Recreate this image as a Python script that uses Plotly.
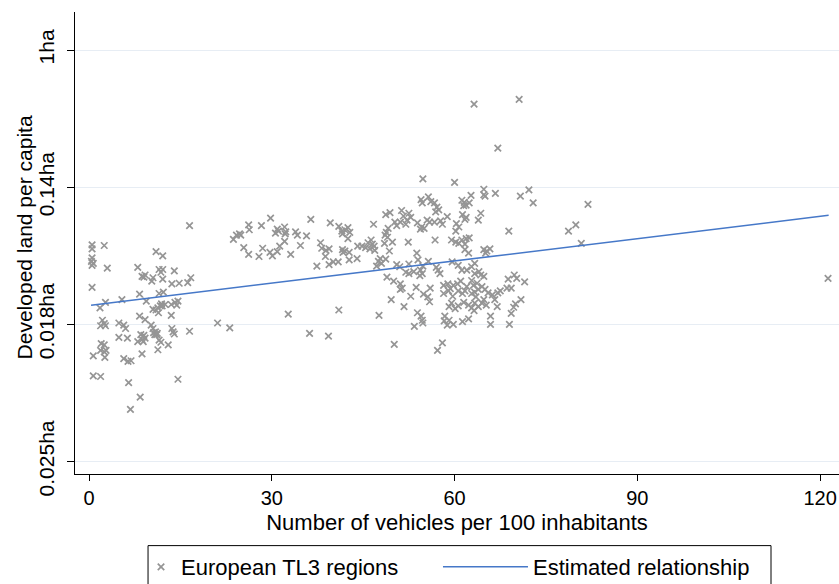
import plotly.graph_objects as go

# Regions: (vehicles per 100 inhabitants, ln of developed land per capita in ha)
low_ownership = [
    (0.5, -2.84), (0.5, -2.90), (2.5, -2.85), (0.5, -3.03), (0.4, -3.08), (0.7, -3.11),
    (0.5, -3.14), (3.0, -3.18), (0.5, -3.46), (11.0, -2.94), (12.1, -3.00), (8.0, -3.17),
    (11.5, -3.20), (12.1, -3.20), (11.8, -3.24), (14.0, -3.22), (8.7, -3.30), (9.2, -3.28),
    (9.0, -3.31), (10.5, -3.32), (10.3, -3.37), (12.1, -3.34), (13.6, -3.41), (14.8, -3.40),
    (16.2, -3.39), (16.7, -3.32), (8.3, -3.56), (11.5, -3.55), (12.2, -3.53), (2.7, -3.68),
    (5.4, -3.64), (9.4, -3.66), (1.8, -3.76), (11.9, -3.70), (12.5, -3.71), (11.7, -3.73),
    (11.3, -3.76), (12.0, -3.73), (13.5, -3.71), (14.1, -3.68), (14.4, -3.72), (14.6, -3.66),
    (10.5, -3.78), (11.4, -3.83), (11.0, -3.79), (13.5, -3.87), (8.3, -3.88), (9.2, -3.93),
    (2.2, -3.94), (2.5, -3.99), (1.9, -4.02), (2.7, -4.02), (4.9, -3.98), (5.7, -4.01),
    (6.0, -4.06), (10.2, -4.01), (10.5, -4.06), (13.6, -4.06), (14.0, -4.14), (13.8, -4.11),
    (16.5, -4.10), (10.6, -4.12), (10.9, -4.11), (11.1, -4.15), (10.8, -4.15), (11.2, -4.13),
    (8.5, -4.15), (9.0, -4.16), (9.2, -4.20), (8.7, -4.22), (8.0, -4.25), (8.9, -4.25),
    (4.9, -4.19), (6.3, -4.20), (11.5, -4.23), (11.8, -4.26), (13.0, -4.30), (2.0, -4.28),
    (2.5, -4.30), (1.9, -4.38), (2.5, -4.40), (2.8, -4.38), (11.3, -4.37), (8.7, -4.43),
    (0.7, -4.46), (2.6, -4.48), (5.7, -4.50), (6.4, -4.54), (6.9, -4.53), (0.7, -4.75),
    (1.9, -4.76), (14.6, -4.80), (6.5, -4.85), (8.4, -5.06), (6.8, -5.24), (16.5, -2.56),
]

mid_ownership = [
    (23.7, -2.76), (24.2, -2.70), (24.7, -2.68), (24.9, -2.70), (26.2, -2.55), (26.3, -2.62),
    (28.3, -2.56), (29.8, -2.45), (30.9, -2.61), (30.6, -2.67), (31.1, -2.64), (32.1, -2.58),
    (32.3, -2.65), (32.2, -2.68), (33.9, -2.65), (34.2, -2.70), (35.7, -2.71), (36.4, -2.47),
    (39.6, -2.52), (41.0, -2.57), (25.4, -2.88), (26.2, -2.98), (28.5, -2.89), (27.9, -3.01),
    (29.7, -2.95), (30.1, -3.00), (30.9, -2.94), (31.3, -2.86), (32.1, -2.79), (33.1, -2.98),
    (34.7, -2.85), (38.0, -2.81), (38.2, -2.89), (38.9, -2.92), (39.4, -2.90), (38.8, -3.01),
    (37.4, -3.15), (39.4, -3.13), (40.1, -3.09), (40.9, -3.09), (32.7, -3.85), (21.1, -3.98),
    (23.1, -4.05), (36.2, -4.13), (39.3, -4.17), (41.0, -3.79),
]

upper_mid_ownership = [
    (54.8, -1.88), (54.5, -2.18), (54.7, -2.23), (41.5, -2.64), (42.0, -2.62), (42.5, -2.59),
    (41.6, -2.68), (42.8, -2.66), (42.5, -2.75), (46.7, -2.54), (48.7, -2.40), (49.4, -2.37),
    (51.3, -2.34), (51.6, -2.42), (52.5, -2.38), (52.8, -2.44), (52.2, -2.48), (52.0, -2.54),
    (51.1, -2.51), (50.5, -2.56), (50.2, -2.51), (48.8, -2.66), (49.1, -2.60), (48.6, -2.70),
    (49.0, -2.73), (49.8, -2.80), (53.9, -2.52), (54.6, -2.58), (54.4, -2.61), (55.0, -2.60),
    (52.4, -2.80), (41.6, -2.91), (42.0, -2.93), (42.7, -2.95), (41.7, -2.95), (44.1, -2.86),
    (44.8, -2.86), (45.4, -2.88), (45.8, -2.81), (46.3, -2.77), (46.5, -2.83), (46.1, -2.90),
    (46.8, -2.86), (46.9, -2.92), (48.5, -2.82), (49.3, -2.93), (42.7, -3.06), (44.0, -3.04),
    (47.8, -3.04), (47.5, -3.08), (48.0, -3.11), (47.2, -3.15), (48.7, -3.05), (50.5, -3.13),
    (51.0, -3.16), (53.8, -2.96), (54.0, -3.06), (52.5, -3.12), (52.0, -3.24), (52.5, -3.26),
    (53.3, -3.23), (54.4, -3.21), (54.7, -3.26), (54.8, -3.15), (54.3, -3.29), (48.9, -3.31),
    (50.0, -3.37), (51.1, -3.41), (51.4, -3.47), (51.1, -3.49), (53.7, -3.46), (49.6, -3.64),
    (52.8, -3.59), (54.9, -3.56), (51.7, -3.74), (47.6, -3.87), (53.9, -3.83), (54.5, -3.88),
    (54.7, -3.94), (54.8, -3.98), (53.4, -4.03), (50.1, -4.29),
]

high_ownership = [
    (60.0, -1.93), (64.8, -2.03), (64.8, -2.11), (65.0, -2.13), (66.7, -2.09), (70.8, -2.13),
    (72.2, -2.04), (55.7, -2.14), (56.1, -2.21), (56.7, -2.23), (57.1, -2.29), (57.4, -2.33),
    (56.9, -2.36), (61.2, -2.19), (61.6, -2.22), (61.9, -2.26), (62.4, -2.23), (62.7, -2.12),
    (61.5, -2.27), (55.5, -2.48), (55.9, -2.51), (56.7, -2.51), (57.7, -2.49), (58.0, -2.54),
    (58.8, -2.43), (61.3, -2.40), (61.9, -2.44), (61.7, -2.47), (60.3, -2.53), (60.7, -2.58),
    (60.2, -2.64), (63.9, -2.48), (64.3, -2.38), (68.9, -2.64), (56.8, -2.77), (59.5, -2.77),
    (60.2, -2.80), (60.7, -2.82), (61.2, -2.77), (61.9, -2.75), (62.4, -2.74), (61.7, -2.83),
    (61.7, -2.91), (62.3, -2.96), (64.8, -2.91), (65.3, -2.93), (65.8, -2.90), (65.1, -2.96),
    (55.7, -3.08), (57.0, -3.17), (57.3, -3.21), (57.6, -3.26), (59.6, -3.09), (60.6, -3.14),
    (61.2, -3.21), (62.0, -3.21), (62.8, -3.16), (63.3, -3.11), (64.0, -3.23), (64.3, -3.28),
    (64.8, -3.30), (63.3, -3.26), (68.8, -3.34), (69.8, -3.28), (70.2, -3.33), (71.5, -3.38),
    (56.0, -3.47), (55.6, -3.60), (55.9, -3.67), (58.2, -3.43), (58.9, -3.41), (59.3, -3.48),
    (59.8, -3.43), (60.5, -3.41), (61.0, -3.37), (58.2, -3.55), (59.0, -3.51), (59.7, -3.59),
    (60.6, -3.51), (61.3, -3.55), (61.7, -3.51), (62.0, -3.45), (62.8, -3.36), (63.1, -3.43),
    (63.7, -3.40), (63.9, -3.49), (63.3, -3.53), (62.8, -3.55), (64.5, -3.45), (65.0, -3.49),
    (63.5, -3.60), (65.5, -3.54), (66.2, -3.57), (67.1, -3.54), (67.5, -3.51), (68.6, -3.47),
    (69.3, -3.47), (59.1, -3.74), (59.5, -3.69), (60.1, -3.77), (60.6, -3.73), (61.5, -3.68),
    (62.3, -3.72), (62.8, -3.76), (63.3, -3.69), (63.2, -3.80), (63.9, -3.74), (64.5, -3.69),
    (64.8, -3.64), (65.2, -3.72), (67.0, -3.74), (66.6, -3.64), (70.0, -3.70), (69.7, -3.75),
    (69.3, -3.84), (70.9, -3.64), (65.9, -3.88), (58.4, -3.88), (58.3, -3.95), (59.1, -3.94),
    (59.8, -4.00), (58.8, -4.01), (61.3, -3.96), (62.3, -3.92), (65.9, -4.00), (69.0, -4.00),
    (58.0, -4.27), (57.2, -4.38), (72.9, -2.23),
]

very_high_ownership = [
    (81.9, -2.25), (78.7, -2.64), (79.9, -2.55), (80.8, -2.82), (121.3, -3.33),
    (63.2, -0.79), (70.6, -0.72), (67.1, -1.43),
]

# Fitted line end points
fit_vehicles = [0.33, 121.4]
fit_ln_land = [-3.72, -2.41]

# Log-scale tick positions and their labels
y_tick_vals = [0, -2, -4, -6]
y_tick_text = ["1ha", "0.14ha", "0.018ha", "0.025ha"]
x_tick_vals = [0, 30, 60, 90, 120]

regions = low_ownership + mid_ownership + upper_mid_ownership + high_ownership + very_high_ownership
vehicles = [p[0] for p in regions]
ln_land = [p[1] for p in regions]

FONT = "Liberation Sans, Arial, sans-serif"
GRAY = "#959595"
BLUE = "#4678C8"

fig = go.Figure()
fig.add_trace(go.Scatter(
    x=vehicles, y=ln_land, mode="markers", name="European TL3 regions",
    marker=dict(symbol="x-thin", size=6.5, color=GRAY, line=dict(color=GRAY, width=1.7)),
    legend="legend",
))
fig.add_trace(go.Scatter(
    x=fit_vehicles, y=fit_ln_land, mode="lines", name="Estimated relationship",
    line=dict(color=BLUE, width=1.5),
    legend="legend2",
))

legend_common = dict(
    orientation="h", yanchor="top", y=-0.156, xanchor="left",
    borderwidth=0, bgcolor="rgba(0,0,0,0)",
    font=dict(family=FONT, size=22, color="black"),
)

fig.update_layout(
    width=839, height=584,
    margin=dict(l=75, r=0, t=12, b=110, autoexpand=False),
    paper_bgcolor="white", plot_bgcolor="white",
    font=dict(family=FONT, size=20, color="black"),
    showlegend=True,
    legend=dict(x=0.0864, itemwidth=30, **legend_common),
    legend2=dict(x=0.4751, itemwidth=85, **legend_common),
    # frame around both legend keys
    shapes=[dict(
        type="rect", xref="paper", yref="paper",
        x0=0.0956, x1=0.911, y0=-0.155, y1=-0.26,
        line=dict(color="black", width=1), fillcolor="rgba(0,0,0,0)", layer="below",
    )],
    annotations=[dict(
        text="Developed land per capita", textangle=-90,
        xref="paper", yref="paper", x=-0.0668, y=0.512,
        xanchor="center", yanchor="middle", showarrow=False,
        font=dict(family=FONT, size=21, color="black"),
    )],
    xaxis=dict(
        range=[-2.3, 123.1], tickvals=x_tick_vals,
        showline=True, linecolor="black", linewidth=1,
        ticks="outside", ticklen=6, tickcolor="black",
        tickfont=dict(size=20),
        showgrid=False, zeroline=False,
        title=dict(text="Number of vehicles per 100 inhabitants", standoff=6,
                   font=dict(size=22)),
    ),
    yaxis=dict(
        range=[-6.181, 0.554], tickvals=y_tick_vals, ticktext=y_tick_text,
        tickangle=-90, ticklabelstandoff=5,
        showline=True, linecolor="black", linewidth=1,
        ticks="outside", ticklen=7, tickcolor="black",
        tickfont=dict(size=21),
        showgrid=True, gridcolor="#E7EDF4", gridwidth=1, zeroline=False,
    ),
)

fig.write_html("out.html")
